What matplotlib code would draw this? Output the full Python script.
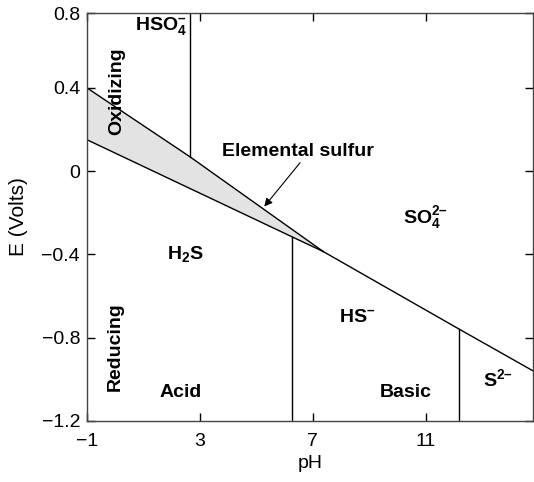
import numpy as np
import matplotlib.pyplot as plt

plt.rcParams['font.family'] = ['Liberation Sans', 'DejaVu Sans']
plt.rcParams['mathtext.fontset'] = 'custom'
plt.rcParams['mathtext.rm'] = 'Liberation Sans:bold'
plt.rcParams['mathtext.it'] = 'Liberation Sans:bold'
plt.rcParams['mathtext.bf'] = 'Liberation Sans:bold'
plt.rcParams['mathtext.default'] = 'rm'

# boundaries (pH, E in volts)
upper_ph = [-1, 2.65, 7.37]
upper_E = [0.40, 0.069, -0.386]
lower_ph = [-1, 6.26, 7.37]
lower_E = [0.151, -0.315, -0.386]
sulfate_ph = [7.37, 12.19, 14.8]
sulfate_E = [-0.386, -0.759, -0.959]

hso4_ph, hso4_E = 2.65, 0.069
hs_ph, hs_E = 6.26, -0.315
s2_ph, s2_E = 12.19, -0.759

E_top = 0.76
xticks = [-1, 3, 7, 11]
xtick_labels = ['\u22121', '3', '7', '11']
yticks = [-1.2, -0.8, -0.4, 0, 0.4, E_top]
ytick_labels = ['\u22121.2', '\u22120.8', '\u22120.4', '0', '0.4', '0.8']

fig = plt.figure(figsize=(5.34, 4.82), dpi=100)
ax = fig.add_axes([0.163, 0.1266, 0.835, 0.8464])

# elemental sulfur wedge
ax.fill(upper_ph + lower_ph[::-1], upper_E + lower_E[::-1],
        facecolor='#e3e3e3', edgecolor='none')
ax.plot(upper_ph, upper_E, color='black', lw=1)
ax.plot(lower_ph, lower_E, color='black', lw=1)
ax.plot(sulfate_ph, sulfate_E, color='black', lw=1)

ax.plot([hso4_ph, hso4_ph], [hso4_E, E_top], color='black', lw=1)
ax.plot([hs_ph, hs_ph], [-1.2, hs_E], color='black', lw=1)
ax.plot([s2_ph, s2_ph], [-1.2, s2_E], color='black', lw=1)

bold = dict(fontsize=14, fontweight='bold', ha='center', va='center')
ax.text(1.62, 0.70, '$HSO_4^{\u2013}$', **bold)
ax.text(0.06, 0.386, 'Oxidizing', rotation=90, **bold)
ax.text(10.99, -0.223, '$SO_4^{2\u2013}$', **bold)
ax.text(2.48, -0.40, '$H_2S$', **bold)
ax.text(0.0, -0.845, 'Reducing', rotation=90, **bold)
ax.text(2.3, -1.061, 'Acid', **bold)
ax.text(8.57, -0.702, '$HS^{\u2013}$', **bold)
ax.text(10.28, -1.061, 'Basic', **bold)
ax.text(13.57, -0.999, '$S^{2\u2013}$', **bold)

ax.text(6.48, 0.093, 'Elemental sulfur', **bold)
ax.annotate('', xy=(5.28, -0.170), xytext=(6.55, 0.041),
            arrowprops=dict(arrowstyle='-|>', color='black', lw=0.8,
                            shrinkA=0, shrinkB=0, mutation_scale=12))

ax.set_xlim(-1, 14.8)
ax.set_ylim(-1.2, E_top)
ax.set_xticks(xticks)
ax.set_xticklabels(xtick_labels)
ax.set_yticks(yticks)
ax.set_yticklabels(ytick_labels)
ax.tick_params(direction='in', length=6, width=1, labelsize=14,
               top=True, right=True)
ax.tick_params(axis='x', pad=9)
ax.tick_params(axis='y', pad=5)
for s in ax.spines.values():
    s.set_color('#444444')
    s.set_linewidth(1)

ax.set_xlabel('pH', fontsize=14, labelpad=3)
ax.set_ylabel('E (Volts)', fontsize=15, labelpad=10)

fig.savefig('out.png', dpi=100)
